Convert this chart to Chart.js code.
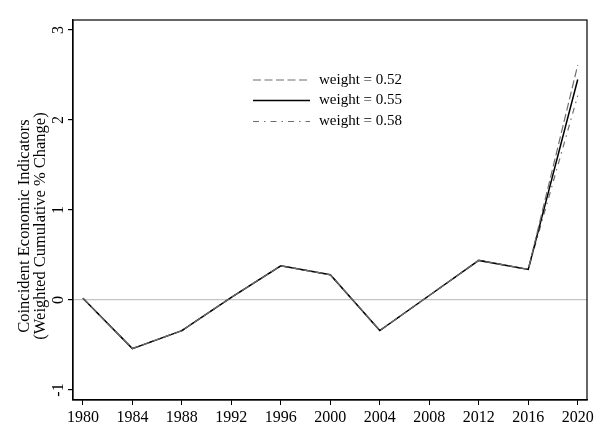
<!DOCTYPE html>
<html>
<head>
<meta charset="utf-8">
<script src="https://cdn.jsdelivr.net/npm/chart.js@4.4.1/dist/chart.umd.min.js"></script>
<style>
html,body{margin:0;padding:0;background:#fff;}
#wrap{position:relative;width:603px;height:444px;}
</style>
</head>
<body>
<div id="wrap"><canvas id="c" width="603" height="444"></canvas></div>
<script>
const years = [1980, 1984, 1988, 1992, 1996, 2000, 2004, 2008, 2012, 2016, 2020];
const weight052 = [0.02, -0.54, -0.34, 0.03, 0.38, 0.28, -0.34, 0.05, 0.44, 0.34, 2.61];
const weight055 = [0.02, -0.54, -0.34, 0.03, 0.38, 0.28, -0.34, 0.05, 0.44, 0.34, 2.45];
const weight058 = [0.02, -0.54, -0.34, 0.03, 0.38, 0.28, -0.34, 0.05, 0.44, 0.34, 2.27];
const seriesLabels = ['weight = 0.52', 'weight = 0.55', 'weight = 0.58'];
const xTicks = [1980, 1984, 1988, 1992, 1996, 2000, 2004, 2008, 2012, 2016, 2020];
const yTicks = [-1, 0, 1, 2, 3];
const yTitle = ['Coincident Economic Indicators', '(Weighted Cumulative % Change)'];

const FONT = "'Liberation Serif', 'Times New Roman', serif";
const toXY = arr => years.map((y, i) => ({x: y, y: arr[i]}));

const decorPlugin = {
  id: 'decor',
  beforeDatasetsDraw(chart) {
    const a = chart.chartArea, ctx = chart.ctx;
    ctx.save();
    ctx.strokeStyle = '#000';
    ctx.lineWidth = 1.2;
    ctx.strokeRect(a.left, a.top, a.right - a.left, a.bottom - a.top);
    ctx.restore();
  },
  afterDatasetsDraw(chart) {
    const ctx = chart.ctx;
    const x0 = 253, x1 = 310, tx = 319;
    const rows = [80, 100.5, 121.5];
    ctx.save();
    chart.data.datasets.forEach((ds, i) => {
      const y = rows[i];
      ctx.beginPath();
      ctx.strokeStyle = ds.borderColor;
      ctx.lineWidth = ds.borderWidth;
      ctx.setLineDash(ds.borderDash || []);
      ctx.moveTo(x0, y);
      ctx.lineTo(x1, y);
      ctx.stroke();
      ctx.setLineDash([]);
      ctx.fillStyle = '#000';
      ctx.font = '15px ' + FONT;
      ctx.textBaseline = 'middle';
      ctx.textAlign = 'left';
      ctx.fillText(ds.label, tx, y);
    });
    // y-axis title (two lines, rotated)
    ctx.font = '16.5px ' + FONT;
    ctx.textAlign = 'center';
    ctx.textBaseline = 'middle';
    const cy = 226;
    const cols = [25, 40.5];
    yTitle.forEach((t, i) => {
      ctx.save();
      ctx.translate(cols[i], cy);
      ctx.rotate(-Math.PI / 2);
      ctx.fillText(t, 0, 0);
      ctx.restore();
    });
    ctx.restore();
  }
};

new Chart(document.getElementById('c'), {
  type: 'line',
  data: {
    datasets: [
      {label: seriesLabels[0], data: toXY(weight052), borderColor: '#6e6e6e', borderWidth: 1.2, borderDash: [8, 3.5], pointRadius: 0, tension: 0, fill: false},
      {label: seriesLabels[1], data: toXY(weight055), borderColor: '#000', borderWidth: 1.5, pointRadius: 0, tension: 0, fill: false},
      {label: seriesLabels[2], data: toXY(weight058), borderColor: '#6e6e6e', borderWidth: 1.2, borderDash: [6, 5, 1.5, 5], pointRadius: 0, tension: 0, fill: false}
    ]
  },
  options: {
    responsive: false,
    animation: false,
    events: [],
    layout: {padding: {left: 0, right: 16, top: 20, bottom: 0}},
    plugins: {legend: {display: false}, tooltip: {enabled: false}},
    scales: {
      x: {
        type: 'linear',
        min: 1979.2,
        max: 2020.75,
        afterBuildTicks: s => { s.ticks = xTicks.map(v => ({value: v})); },
        afterFit: s => { s.height = 44; },
        grid: {drawOnChartArea: false, drawTicks: true, tickLength: 5, tickColor: '#000'},
        border: {display: true, color: '#000', width: 1.2},
        ticks: {color: '#000', font: {family: FONT, size: 16}, padding: 3, maxRotation: 0, autoSkip: false, callback: v => String(v)}
      },
      y: {
        type: 'linear',
        min: -1.111,
        max: 3.111,
        afterBuildTicks: s => { s.ticks = yTicks.map(v => ({value: v})); },
        afterFit: s => { s.width = 73; },
        grid: {
          drawOnChartArea: true,
          drawTicks: true,
          tickLength: 5,
          tickColor: '#000',
          color: c => (c.tick && c.tick.value === 0) ? '#c4c4c4' : 'rgba(0,0,0,0)',
          lineWidth: 1.2
        },
        border: {display: true, color: '#000', width: 1.2},
        ticks: {color: '#000', font: {family: FONT, size: 16}, padding: 3, minRotation: 90, maxRotation: 90, crossAlign: 'center', autoSkip: false, callback: v => String(v)},
        title: {display: false}
      }
    }
  },
  plugins: [decorPlugin]
});
</script>
</body>
</html>
